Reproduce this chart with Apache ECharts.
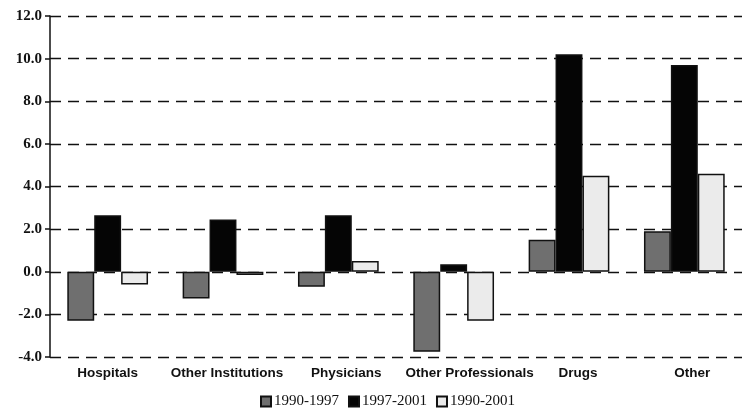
<!DOCTYPE html>
<html><head><meta charset="utf-8">
<script src="https://cdn.jsdelivr.net/npm/echarts@6/dist/echarts.min.js"></script>
<style>html,body{margin:0;padding:0;background:#fff}#c{width:742px;height:410px}</style>
</head><body><div id="c"></div>
<script>
const categories = ['Hospitals', 'Other Institutions', 'Physicians', 'Other Professionals', 'Drugs', 'Other'];
const labelShift = [0, 4, 8, 16, 9, 8];
const s1990_1997 = [-2.3, -1.25, -0.7, -3.75, 1.5, 1.9];
const s1997_2001 = [2.65, 2.45, 2.65, 0.35, 10.2, 9.7];
const s1990_2001 = [-0.6, -0.15, 0.5, -2.3, 4.5, 4.6];
const seriesNames = ['1990-1997', '1997-2001', '1990-2001'];
const yMin = -4, yMax = 12, yStep = 2;

const rich = {};
labelShift.forEach((d, i) => {
  rich['c' + i] = { fontFamily: 'Liberation Sans', fontWeight: 'bold', fontSize: 13.5, color: '#111', padding: [0, 0, 0, 2 * d] };
});

const chart = echarts.init(document.getElementById('c'), null, { renderer: 'canvas' });
const border = { borderColor: '#111', borderWidth: 1.5 };
chart.setOption({
  animation: false,
  backgroundColor: '#fff',
  grid: { left: 50, right: -5, top: 16, bottom: 53, containLabel: false },
  legend: {
    left: 255, top: 389, itemGap: 9, itemWidth: 10, itemHeight: 10, icon: 'rect',
    textStyle: { fontFamily: 'Liberation Serif', fontSize: 15, color: '#111', padding: [0, 0, 0, -2] },
    data: seriesNames
  },
  xAxis: {
    type: 'category', data: categories,
    axisLine: { show: false }, axisTick: { show: false },
    axisLabel: {
      margin: 9, interval: 0,
      formatter: (v, i) => '{c' + i + '|' + v + '}',
      rich: rich
    }
  },
  yAxis: {
    type: 'value', min: yMin, max: yMax, interval: yStep,
    axisLine: { show: true, lineStyle: { color: '#111', width: 1.5 } },
    axisTick: { show: true, length: 5, lineStyle: { color: '#111', width: 1.5 } },
    axisLabel: { formatter: v => v.toFixed(1), fontFamily: 'Liberation Serif', fontWeight: 'bold', fontSize: 15, color: '#111', margin: 8 },
    splitLine: { show: true, lineStyle: { color: '#111', width: 1.3, type: [11, 7] } }
  },
  series: [
    { name: seriesNames[0], type: 'bar', data: s1990_1997, barGap: '0%', barCategoryGap: '30%',
      itemStyle: Object.assign({ color: '#6f6f6f' }, border) },
    { name: seriesNames[1], type: 'bar', data: s1997_2001,
      itemStyle: Object.assign({ color: '#050505' }, border) },
    { name: seriesNames[2], type: 'bar', data: s1990_2001,
      itemStyle: Object.assign({ color: '#ebebeb' }, border) }
  ]
});
</script></body></html>
